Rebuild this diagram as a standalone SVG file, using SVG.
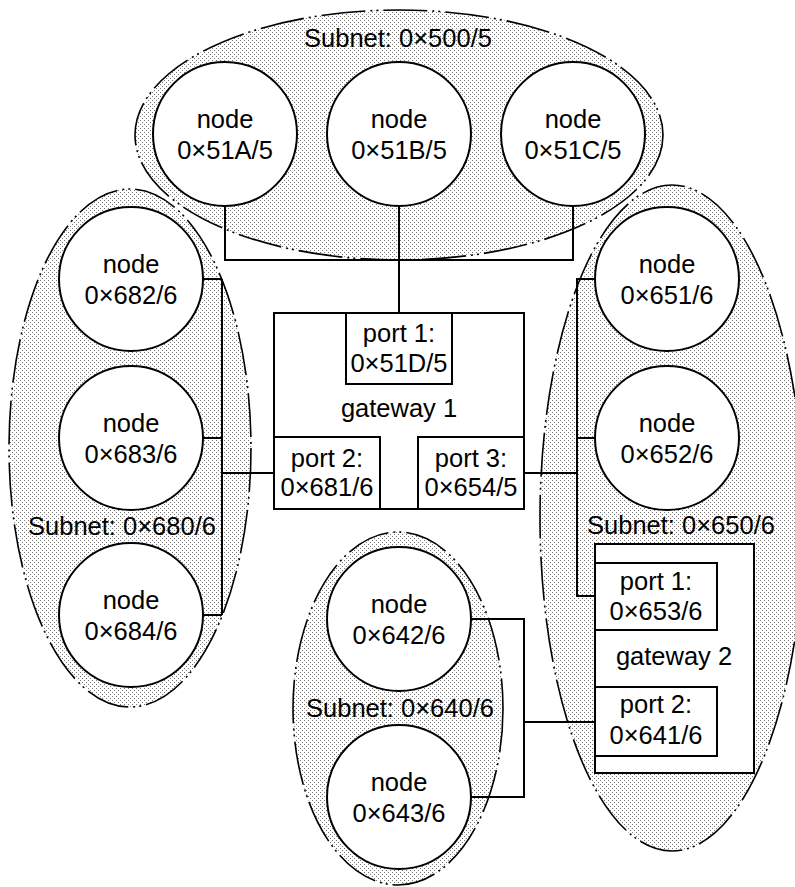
<svg xmlns="http://www.w3.org/2000/svg" width="795" height="887" viewBox="0 0 795 887">
<defs>
<pattern id="dots" width="4" height="4" patternUnits="userSpaceOnUse">
<rect x="0" y="0" width="1" height="1" fill="#777"/>
<rect x="2" y="2" width="1" height="1" fill="#777"/>
</pattern>
</defs>
<style>
.subnet{fill:url(#dots);stroke:#000;stroke-width:1.6;stroke-dasharray:44 5 2 4 2 5}
.node{fill:#fff;stroke:#000;stroke-width:2}
.box{fill:#fff;stroke:#000;stroke-width:2}
.wire{fill:none;stroke:#000;stroke-width:2}
text{font-family:"Liberation Sans",Arial,sans-serif;font-size:25.5px;fill:#000;text-anchor:middle}
</style>
<rect width="795" height="887" fill="#fff"/>
<g id="subnet-500"><ellipse class="subnet" cx="399" cy="135" rx="264" ry="125"/></g>
<g id="subnet-680"><ellipse class="subnet" cx="130" cy="448" rx="121" ry="259"/></g>
<g id="subnet-650"><ellipse class="subnet" cx="672" cy="518" rx="132" ry="333"/></g>
<g id="subnet-640"><ellipse class="subnet" cx="398" cy="708.5" rx="105" ry="176.5"/></g>
<g id="subnet-labels">
<text x="398" y="47">Subnet: 0×500/5</text>
<text x="122" y="535">Subnet: 0×680/6</text>
<text x="681" y="534">Subnet: 0×650/6</text>
<text x="400" y="717">Subnet: 0×640/6</text>
</g>
<g id="connectors">
<path class="wire" d="M225,206 V260 H573 V206"/>
<path class="wire" d="M399,206 V313"/>
<path class="wire" d="M274,473 H222 M222,279 V615 M203,279 H222 M203,438 H222 M203,615 H222"/>
<path class="wire" d="M524,473 H577 M595,279 H577 V596 H595 M577,438 H595"/>
<path class="wire" d="M471,619 H524 V797 H471 M524,722 H595"/>
</g>
<g id="node-51A"><circle class="node" cx="225" cy="134" r="72"/><text x="225" y="128">node</text><text x="225" y="159">0×51A/5</text></g>
<g id="node-51B"><circle class="node" cx="399" cy="134" r="72"/><text x="399" y="128">node</text><text x="399" y="159">0×51B/5</text></g>
<g id="node-51C"><circle class="node" cx="573" cy="134" r="72"/><text x="573" y="128">node</text><text x="573" y="159">0×51C/5</text></g>
<g id="node-682"><circle class="node" cx="131" cy="279" r="72"/><text x="131" y="273">node</text><text x="131" y="304">0×682/6</text></g>
<g id="node-683"><circle class="node" cx="131" cy="438" r="72"/><text x="131" y="432">node</text><text x="131" y="463">0×683/6</text></g>
<g id="node-684"><circle class="node" cx="131" cy="615" r="72"/><text x="131" y="609">node</text><text x="131" y="640">0×684/6</text></g>
<g id="node-651"><circle class="node" cx="667" cy="279" r="72"/><text x="667" y="273">node</text><text x="667" y="304">0×651/6</text></g>
<g id="node-652"><circle class="node" cx="667" cy="438" r="72"/><text x="667" y="432">node</text><text x="667" y="463">0×652/6</text></g>
<g id="node-642"><circle class="node" cx="399" cy="619" r="72"/><text x="399" y="613">node</text><text x="399" y="644">0×642/6</text></g>
<g id="node-643"><circle class="node" cx="399" cy="797" r="72"/><text x="399" y="791">node</text><text x="399" y="822">0×643/6</text></g>
<g id="gateway-1">
<rect class="box" x="274" y="313" width="250" height="196"/>
<text x="399" y="417">gateway 1</text>
<rect class="box" x="346" y="313" width="106" height="71"/>
<text x="399" y="342">port 1:</text><text x="399" y="372">0×51D/5</text>
<rect class="box" x="274" y="437" width="106" height="72"/>
<text x="327" y="467">port 2:</text><text x="327" y="496">0×681/6</text>
<rect class="box" x="418" y="437" width="106" height="72"/>
<text x="471" y="467">port 3:</text><text x="471" y="496">0×654/5</text>
</g>
<g id="gateway-2">
<rect class="box" x="595" y="544" width="159" height="229"/>
<text x="674" y="665">gateway 2</text>
<rect class="box" x="595" y="563" width="122" height="67"/>
<text x="656" y="590">port 1:</text><text x="656" y="620">0×653/6</text>
<rect class="box" x="595" y="687" width="122" height="69"/>
<text x="656" y="713">port 2:</text><text x="656" y="744">0×641/6</text>
</g>
</svg>
